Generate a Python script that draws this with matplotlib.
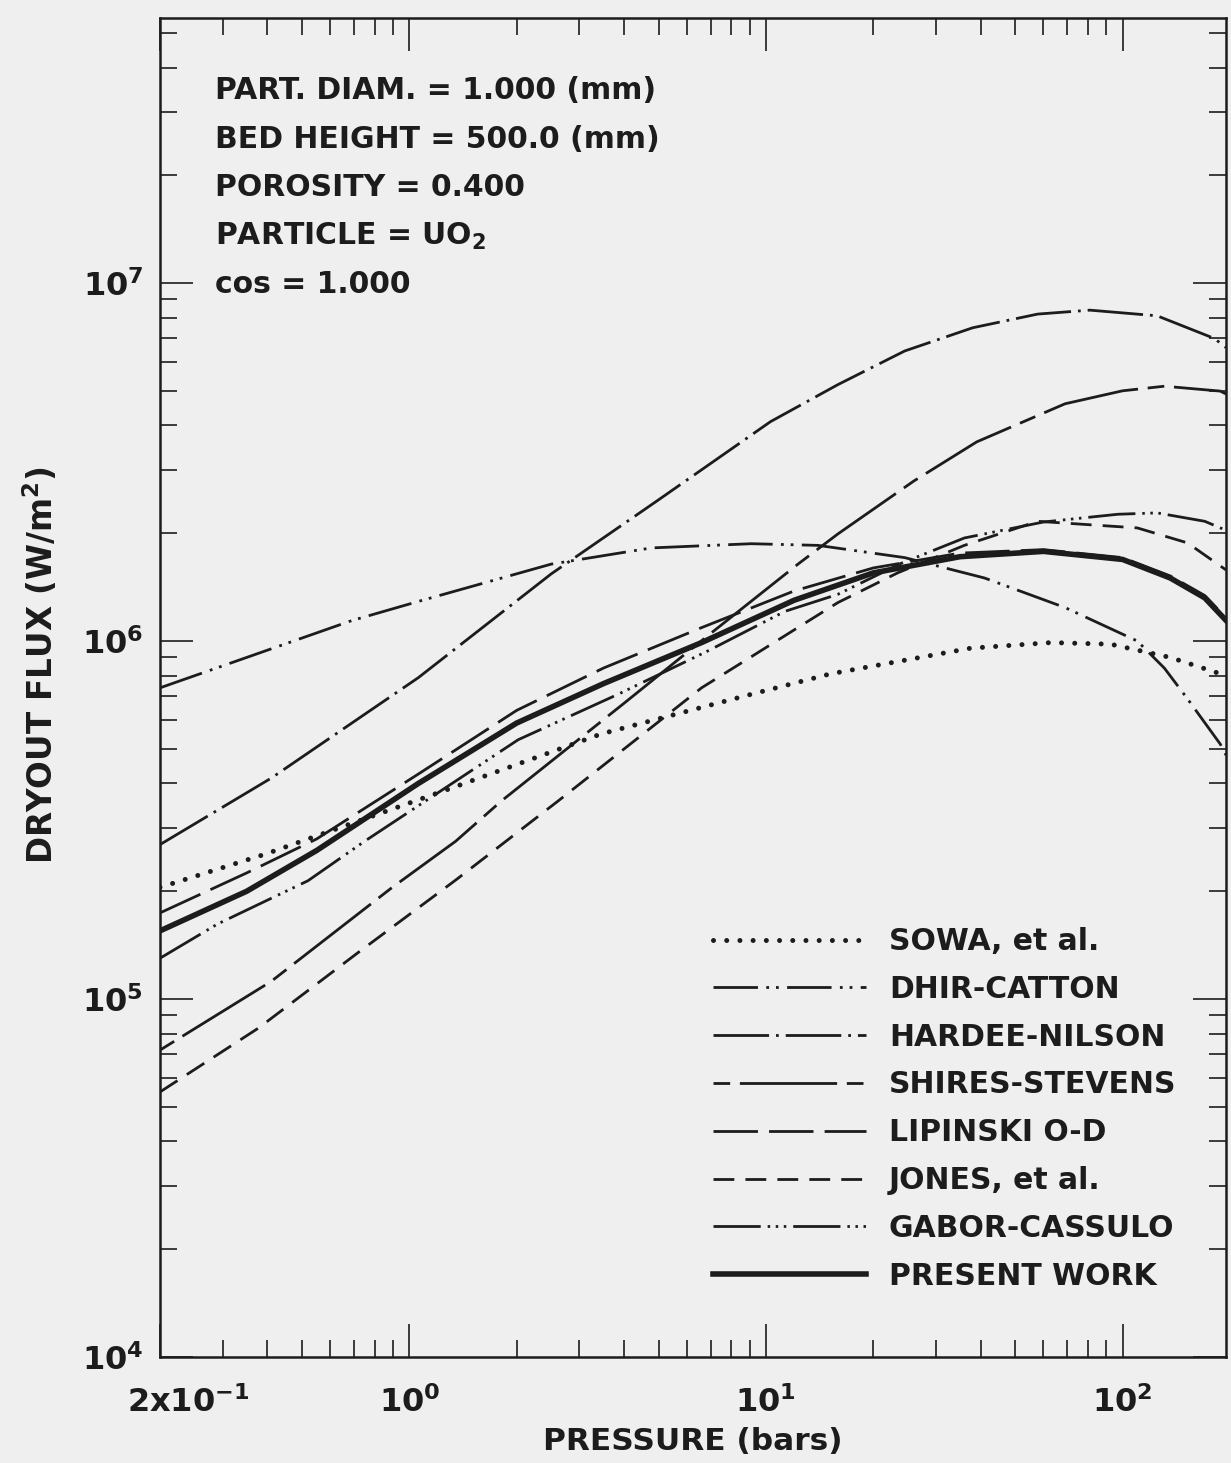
import matplotlib
matplotlib.use("Agg")
import matplotlib.pyplot as plt
from matplotlib.ticker import FixedLocator, FixedFormatter, NullFormatter
from matplotlib.transforms import ScaledTranslation

plt.rcParams['font.family'] = 'DejaVu Sans'
plt.rcParams['font.weight'] = 'bold'
plt.rcParams['mathtext.fontset'] = 'custom'
plt.rcParams['mathtext.rm'] = 'DejaVu Sans:bold'
plt.rcParams['mathtext.it'] = 'DejaVu Sans:bold'
plt.rcParams['mathtext.bf'] = 'DejaVu Sans:bold'
plt.rcParams['lines.scale_dashes'] = False

# pressure (bar) and dryout flux (W/m^2) for each correlation
sowa_p = [0.2, 0.395, 1.31, 3.45, 9.1, 15.2, 37.5, 62.9, 92.5, 136, 188, 195]
sowa_f = [2.05e5, 2.54e5, 3.88e5, 5.5e5, 7.1e5, 8.1e5, 9.55e5, 9.9e5, 9.8e5, 9.0e5, 8.1e5, 7.9e5]

dhir_p = [0.2, 0.689, 1.06, 2.5, 4.77, 9.1, 14, 24.5, 41, 69, 110, 131, 152, 188, 195]
dhir_f = [7.4e5, 1.14e6, 1.29e6, 1.64e6, 1.82e6, 1.87e6, 1.85e6, 1.71e6, 1.5e6, 1.24e6, 1.0e6, 8.4e5, 6.9e5, 5.15e5, 4.8e5]

hardee_p = [0.2, 0.41, 1.06, 2.5, 5.0, 10.3, 15.9, 24.5, 38, 57.8, 81, 125, 181, 195]
hardee_f = [2.7e5, 4.14e5, 7.9e5, 1.54e6, 2.48e6, 4.1e6, 5.2e6, 6.46e6, 7.5e6, 8.19e6, 8.4e6, 8.1e6, 7.0e6, 6.6e6]

shires_p = [0.2, 0.41, 0.89, 1.35, 1.81, 4, 7, 12.3, 15.9, 26, 39, 69, 100, 131, 188, 195]
shires_f = [7.2e4, 1.12e5, 2.04e5, 2.76e5, 3.57e5, 6.7e5, 1.05e6, 1.64e6, 1.99e6, 2.8e6, 3.6e6, 4.6e6, 5.0e6, 5.15e6, 4.99e6, 4.9e6]

lipinski_p = [0.2, 0.35, 0.55, 1.06, 2.0, 3.5, 6.6, 12, 20, 35, 60, 100, 136, 170, 197]
lipinski_f = [1.74e5, 2.25e5, 2.8e5, 4.25e5, 6.4e5, 8.4e5, 1.09e6, 1.38e6, 1.6e6, 1.76e6, 1.8e6, 1.71e6, 1.52e6, 1.34e6, 1.15e6]

jones_p = [0.2, 0.378, 0.72, 1.35, 2.61, 6.6, 15.9, 23.4, 36, 57.8, 110, 152, 195]
jones_f = [5.5e4, 8.3e4, 1.35e5, 2.15e5, 3.57e5, 7.4e5, 1.28e6, 1.55e6, 1.85e6, 2.16e6, 2.07e6, 1.88e6, 1.58e6]

gabor_p = [0.2, 0.29, 0.52, 0.75, 2.02, 3.85, 6.9, 11.3, 15.9, 24, 36, 60, 97, 125, 170, 197]
gabor_f = [1.3e5, 1.62e5, 2.14e5, 2.76e5, 5.3e5, 7.1e5, 9.4e5, 1.21e6, 1.35e6, 1.65e6, 1.94e6, 2.15e6, 2.26e6, 2.28e6, 2.16e6, 2.03e6]

present_p = [0.2, 0.35, 0.55, 1.06, 2.0, 3.5, 6.6, 12, 20, 35, 60, 100, 136, 170, 197]
present_f = [1.55e5, 2.0e5, 2.6e5, 4.0e5, 5.9e5, 7.6e5, 9.9e5, 1.3e6, 1.55e6, 1.72e6, 1.78e6, 1.69e6, 1.5e6, 1.32e6, 1.13e6]

x_ticks = [0.2, 1, 10, 100]
x_ticklabels = ['2x$10^{-1}$', '$10^{0}$', '$10^{1}$', '$10^{2}$']
y_ticks = [1e4, 1e5, 1e6, 1e7]
y_ticklabels = ['$10^{4}$', '$10^{5}$', '$10^{6}$', '$10^{7}$']

info_lines = ['PART. DIAM. = 1.000 (mm)', 'BED HEIGHT = 500.0 (mm)',
              'POROSITY = 0.400', 'PARTICLE = UO$_2$', 'cos = 1.000']

bg = '#efefef'
ink = '#1c1c1c'
fs = 21.5

fig = plt.figure(figsize=(12.31, 14.63), dpi=100, facecolor=bg)
ax = fig.add_axes([160/1231, 106/1463, 1066/1231, 1339/1463], facecolor=bg)
ax.set_xscale('log')
ax.set_yscale('log')

lw = 2.0
ax.plot(sowa_p, sowa_f, color=ink, lw=3.6, ls=(0, (0.01, 9.5)),
        dash_capstyle='round', label='SOWA, et al.')
ax.plot(dhir_p, dhir_f, color=ink, lw=lw, ls=(0, (32, 6, 2, 5, 2, 6)),
        label='DHIR-CATTON')
ax.plot(hardee_p, hardee_f, color=ink, lw=lw, ls=(0, (40, 5, 2, 5)),
        label='HARDEE-NILSON')
ax.plot(shires_p, shires_f, color=ink, lw=lw, ls=(0, (12, 7, 70, 7)),
        label='SHIRES-STEVENS')
ax.plot(lipinski_p, lipinski_f, color=ink, lw=lw, ls=(0, (32, 8)),
        label='LIPINSKI O-D')
ax.plot(jones_p, jones_f, color=ink, lw=lw, ls=(0, (15, 8)),
        label='JONES, et al.')
ax.plot(gabor_p, gabor_f, color=ink, lw=lw,
        ls=(0, (34, 5, 1.8, 4, 1.8, 4, 1.8, 5)), label='GABOR-CASSULO')
ax.plot(present_p, present_f, color=ink, lw=4.0, label='PRESENT WORK')

ax.set_xlim(0.2, 195)
ax.set_ylim(1e4, 5.5e7)

ax.xaxis.set_major_locator(FixedLocator(x_ticks))
ax.xaxis.set_major_formatter(FixedFormatter(x_ticklabels))
ax.xaxis.set_minor_locator(FixedLocator([m * 10.0 ** e for e in (-1, 0, 1)
                                         for m in range(2, 10)]))
ax.xaxis.set_minor_formatter(NullFormatter())
ax.yaxis.set_major_locator(FixedLocator(y_ticks))
ax.yaxis.set_major_formatter(FixedFormatter(y_ticklabels))
ax.yaxis.set_minor_locator(FixedLocator([m * 10.0 ** e for e in (4, 5, 6, 7)
                                         for m in range(2, 10)]))
ax.yaxis.set_minor_formatter(NullFormatter())

ax.tick_params(which='both', direction='in', top=True, right=True,
               colors=ink, width=1.2)
ax.tick_params(which='major', length=24, labelsize=23)
ax.tick_params(which='minor', length=12)
ax.tick_params(axis='x', which='major', pad=21)
ax.tick_params(axis='y', which='major', pad=12)
for sp in ax.spines.values():
    sp.set_linewidth(1.8)
    sp.set_color(ink)

# the 2x10^-1 label sits right of the corner
first = ax.get_xticklabels()[0]
first.set_transform(first.get_transform()
                    + ScaledTranslation(0.28, 0, fig.dpi_scale_trans))

ax.set_xlabel('PRESSURE (bars)', fontsize=22.5, fontweight='bold',
              color=ink, labelpad=6)
ax.set_ylabel('DRYOUT FLUX (W/m$^2$)', fontsize=23.5, fontweight='bold',
              color=ink)
ax.yaxis.set_label_coords(-0.094, 0.517)

# run parameters in the upper left corner
for i, line in enumerate(info_lines):
    y = (1357 - (99 + 48.5 * i)) / 1339
    ax.text(55 / 1066, y, line, transform=ax.transAxes, fontsize=fs,
            fontweight='bold', color=ink, va='baseline', ha='left')

leg = ax.legend(loc='upper left', bbox_to_anchor=(0.519, 0.3211),
                frameon=False, fontsize=fs, handlelength=5.1,
                handletextpad=0.78, labelspacing=0.63, borderpad=0,
                borderaxespad=0)
for t in leg.get_texts():
    t.set_color(ink)

fig.savefig('out.png', dpi=100, facecolor=bg)
